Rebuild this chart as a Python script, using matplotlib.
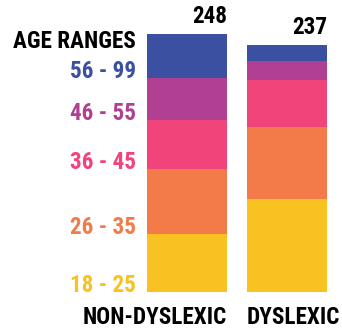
import matplotlib
matplotlib.use("Agg")
import matplotlib.pyplot as plt
from matplotlib import font_manager
from matplotlib.font_manager import FontProperties

# Age-range counts per group, bottom (youngest) to top (oldest)
groups = ["NON-DYSLEXIC", "DYSLEXIC"]
age_ranges = ["18 - 25", "26 - 35", "36 - 45", "46 - 55", "56 - 99"]
non_dyslexic = [56, 62, 47, 41, 42]
dyslexic = [89, 70, 45, 18, 15]
totals = [248, 237]

colors = ["#F8C222", "#F37B4A", "#F0447A", "#B04092", "#3B50A0"]


def _is_bold(w):
    if isinstance(w, str):
        return w.lower() in ("bold", "heavy", "black", "demibold", "semibold", "extra bold", "ultrabold")
    return w >= 600


def _is_narrow(f):
    s = f.stretch
    if isinstance(s, str):
        if "condensed" in s.lower():
            return True
    elif s < 100 or (isinstance(s, (int, float)) and s <= 87.5):
        return True
    low = (f.name + " " + f.fname).lower()
    return "narrow" in low or "condensed" in low


def pick_font():
    cands = [f for f in font_manager.fontManager.ttflist if _is_bold(f.weight) and _is_narrow(f)]
    order = ["roboto", "liberation", "open sans", "noto sans", "dejavu"]
    def rank(f):
        low = f.name.lower()
        for i, k in enumerate(order):
            if k in low:
                return i
        return len(order)
    cands = [f for f in cands if "italic" not in f.fname.lower() and f.style == "normal"]
    if cands:
        cands.sort(key=rank)
        return FontProperties(fname=cands[0].fname), 1.0
    return FontProperties(family="Roboto", weight="bold"), 0.85


fp, scale = pick_font()
fs = 16.7 * scale

W, H = 342, 331
fig = plt.figure(figsize=(W / 100, H / 100), dpi=100)
ax = fig.add_axes([137 / W, 39 / H, 200 / W, 258 / H])

series = [non_dyslexic, dyslexic]
bottoms = [0, 0]
for k, color in enumerate(colors):
    vals = [s[k] for s in series]
    ax.bar([0, 1], vals, width=0.8, bottom=bottoms, color=color, linewidth=0)
    bottoms = [b + v for b, v in zip(bottoms, vals)]

ax.set_xlim(-0.5, 1.5)
ax.set_ylim(0, totals[0])
ax.axis("off")


def label(x, y, s, color="black", ha="right", dy=0, trans=None):
    kw = dict(fontproperties=fp, fontsize=fs, color=color, ha=ha, va="baseline")
    if trans is not None:
        ax.text(x, y, s, transform=trans, clip_on=False, **kw)
    else:
        ax.annotate(s, xy=(x, y), xytext=(0, dy), textcoords="offset points",
                    annotation_clip=False, **kw)


# age-range labels, baseline on the lower edge of each segment of the first bar
base = 0
for k, name in enumerate(age_ranges):
    label(-0.51, base, name, color=colors[k])
    base += non_dyslexic[k]

label(-0.51, 0.946, "AGE RANGES", trans=ax.get_xaxis_transform())

# totals above bars
for i, t in enumerate(totals):
    label(i + 0.4, t, str(t), dy=8)

# group labels under bars
label(0.4, 0, groups[0], ha="right", dy=-23)
label(0.6, 0, groups[1], ha="left", dy=-23)

fig.savefig("out.png", dpi=100)
